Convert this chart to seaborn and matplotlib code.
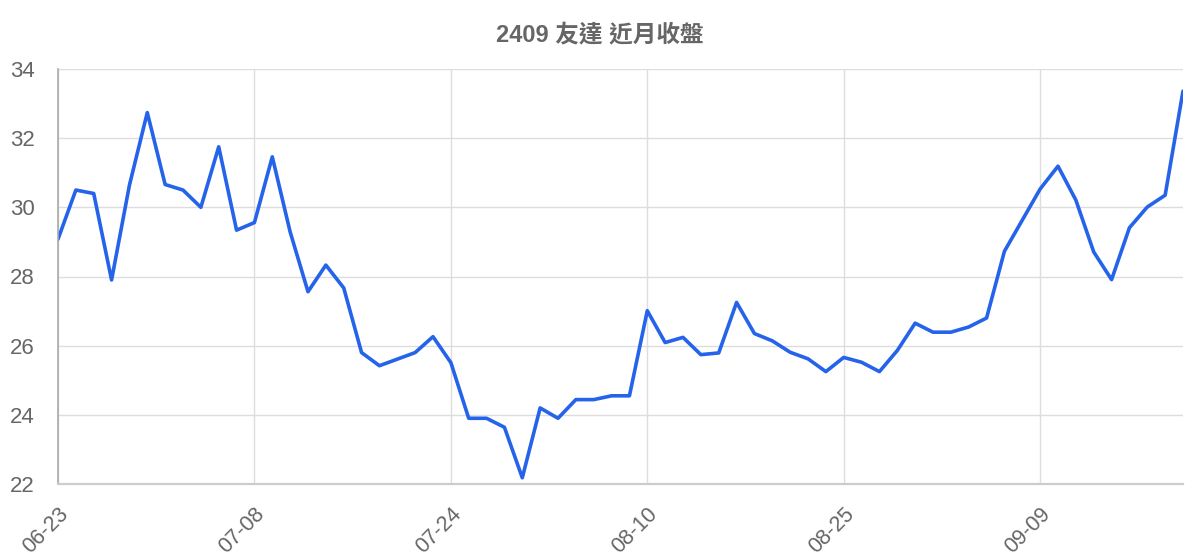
import numpy as np
import pandas as pd
import seaborn as sns
import matplotlib
matplotlib.use("Agg")
import matplotlib.pyplot as plt

# 收盤價
close = [29.08, 30.50, 30.40, 27.90, 30.64, 32.74, 30.66, 30.50, 30.00, 31.75,
         29.34, 29.56, 31.46, 29.29, 27.56, 28.33, 27.67, 25.80, 25.42, 25.61,
         25.80, 26.26, 25.51, 23.90, 23.90, 23.64, 22.18, 24.20, 23.90, 24.44,
         24.44, 24.55, 24.55, 27.01, 26.09, 26.24, 25.74, 25.79, 27.25, 26.35,
         26.14, 25.81, 25.62, 25.25, 25.66, 25.52, 25.25, 25.86, 26.65, 26.39,
         26.39, 26.54, 26.80, 28.73, 29.63, 30.53, 31.19, 30.21, 28.71, 27.91,
         29.41, 30.01, 30.35, 33.36]
tick_labels = ["06-23", "07-08", "07-24", "08-10", "08-25", "09-09"]
tick_step = 11
y_ticks = [22, 24, 26, 28, 30, 32, 34]
title = "2409 友達 近月收盤"

df = pd.DataFrame({"i": np.arange(len(close)), "close": close})

sns.set_theme(style="white")
plt.rcParams["font.family"] = ["Liberation Sans", "Noto Sans CJK TC", "DejaVu Sans"]

fig = plt.figure(figsize=(12, 5.6), dpi=100)
ax = fig.add_axes([58 / 1200, 1 - 484 / 560, (1183 - 58) / 1200, (484 - 69) / 560])

sns.lineplot(data=df, x="i", y="close", ax=ax, color="#2563eb", linewidth=2.6)

ax.set_xlim(0, len(close) - 1)
ax.set_ylim(y_ticks[0], y_ticks[-1])
ax.set_xticks(range(0, len(close), tick_step)[:len(tick_labels)])
ax.set_xticklabels(tick_labels, rotation=45, ha="right", va="top",
                   rotation_mode="anchor", fontsize=15.5, color="#666666")
ax.set_yticks(y_ticks)
ax.set_yticklabels([str(v) for v in y_ticks], fontsize=16, color="#666666")
ax.tick_params(axis="y", length=14, color="#dddddd", width=1, pad=3)
ax.tick_params(axis="x", length=13, color="#dddddd", width=1, pad=1)

ax.grid(True, color="#dddddd", linewidth=1)
ax.set_axisbelow(True)
for s in ["top", "right"]:
    ax.spines[s].set_visible(False)
ax.spines["left"].set_color("#aaaaaa")
ax.spines["left"].set_linewidth(1.2)
ax.spines["bottom"].set_color("#cccccc")
ax.spines["bottom"].set_linewidth(1.6)
ax.set_xlabel("")
ax.set_ylabel("")

fig.text(0.5, 1 - 35 / 560, title, ha="center", va="center",
         fontsize=17, fontweight="bold", color="#666666")

fig.savefig("out.png", dpi=100, facecolor="white")
